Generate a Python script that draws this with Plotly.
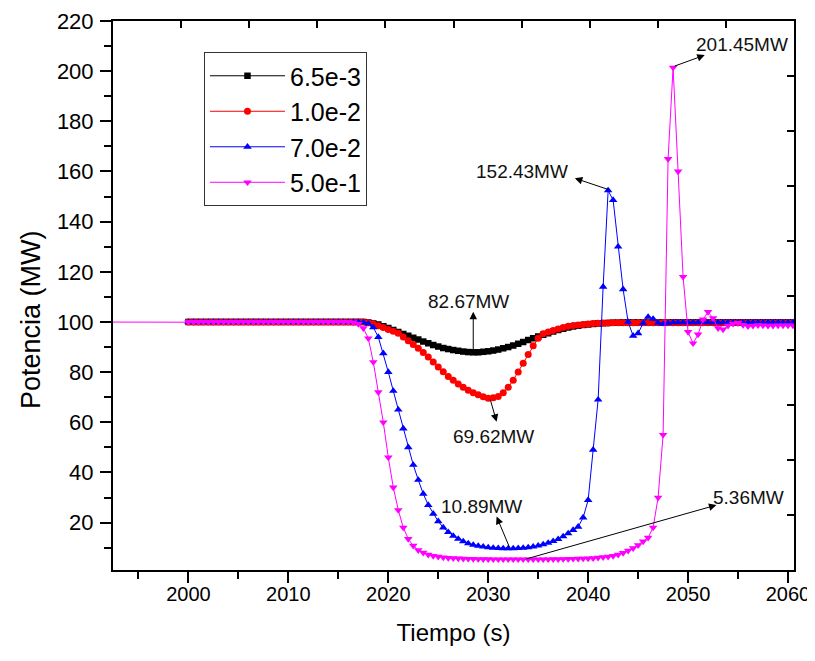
import plotly.graph_objects as go

# ---------------- data ----------------
# sampling instants of the simulation output (s), 0.5 s step
time_s = [2000 + 0.5 * i for i in range(123)]

series_names = ["6.5e-3", "1.0e-2", "7.0e-2", "5.0e-1"]

p_65e3 = [
    100, 100, 100, 100, 100, 100, 100, 100, 100, 100,
    100, 100, 100, 100, 100, 100, 100, 100, 100, 100,
    100, 100, 100, 100, 100, 100, 100, 100, 100, 100,
    100, 100, 100, 100, 100, 100, 99.8, 99.4, 99.0, 98.3,
    97.6, 96.8, 96.0, 95.2, 94.5, 93.7, 93.0, 92.2, 91.5, 90.8,
    90.2, 89.6, 89.2, 88.8, 88.5, 88.2, 88.0, 87.9, 87.9, 88.1,
    88.3, 88.6, 89.0, 89.5, 90.0, 90.6, 91.3, 92.0, 92.8, 93.5,
    94.2, 94.9, 95.5, 96.2, 96.8, 97.3, 97.8, 98.2, 98.5, 98.8,
    99.0, 99.2, 99.4, 99.5, 99.6, 99.7, 99.7, 99.8, 99.8, 99.8,
    99.8, 99.8, 99.8, 99.8, 99.8, 99.8, 99.8, 99.8, 99.8, 99.8,
    99.8, 99.8, 99.8, 99.8, 99.8, 99.8, 99.8, 99.8, 99.8, 99.8,
    99.8, 99.8, 99.8, 99.8, 99.8, 99.8, 99.8, 99.8, 99.8, 99.8,
    99.8, 99.8, 99.8,
]

p_10e2 = [
    100, 100, 100, 100, 100, 100, 100, 100, 100, 100,
    100, 100, 100, 100, 100, 100, 100, 100, 100, 100,
    100, 100, 100, 100, 100, 100, 100, 100, 100, 100,
    100, 100, 100, 100, 100, 100, 99.7, 99.2, 98.5, 97.8,
    97.0, 96.3, 95.5, 94.0, 92.5, 91.0, 89.5, 87.8, 86.0, 84.0,
    82.0, 80.1, 78.3, 76.8, 75.3, 74.0, 72.8, 71.8, 71.0, 70.2,
    69.62, 69.8, 70.3, 71.8, 74.0, 76.8, 80.0, 83.5, 87.0, 90.5,
    93.5, 95.3, 96.0, 96.6, 97.2, 97.8, 98.3, 98.6, 98.8, 99.0,
    99.2, 99.4, 99.5, 99.6, 99.6, 99.7, 99.7, 99.7, 99.7, 99.7,
    99.7, 99.7, 99.7, 99.7, 99.7, 99.7, 99.7, 99.7, 99.7, 99.7,
    99.7, 99.7, 99.7, 99.7, 99.7, 99.7, 99.7, 99.7, 99.7, 99.7,
    99.7, 99.7, 99.7, 99.7, 99.7, 99.7, 99.7, 99.7, 99.7, 99.7,
    99.7, 99.7, 99.7,
]

p_70e2 = [
    100, 100, 100, 100, 100, 100, 100, 100, 100, 100,
    100, 100, 100, 100, 100, 100, 100, 100, 100, 100,
    100, 100, 100, 100, 100, 100, 100, 100, 100, 100,
    100, 100, 100, 100, 100, 99.8, 99.3, 97.8, 94.0, 87.5,
    80.0, 72.5, 65.0, 57.5, 50.0, 43.0, 37.0, 31.5, 27.0, 23.5,
    20.5, 18.0, 16.2, 14.7, 13.5, 12.5, 11.7, 11.1, 10.7, 10.4,
    10.1, 9.9, 9.8, 9.7, 9.7, 9.7, 9.8, 9.9, 10.1, 10.4,
    10.8, 11.3, 11.9, 12.6, 13.4, 14.5, 15.7, 17.0, 18.3, 22.0,
    29.0, 49.0, 69.0, 114.0, 152.43, 148.6, 130.0, 113.0, 100.0, 94.5,
    95.5, 99.5, 102.0, 101.2, 99.6, 99.2, 99.5, 99.8, 99.8, 99.8,
    99.8, 99.8, 99.8, 99.8, 99.8, 99.8, 99.8, 99.8, 99.8, 99.8,
    99.8, 99.8, 99.8, 99.8, 99.8, 99.8, 99.8, 99.8, 99.8, 99.8,
    99.8, 99.8, 99.8,
]

# the 5.0e-1 run also has an earlier sample (thin line before 2000 s)
p_50e1_pre_t = [1985]
p_50e1_pre_v = [100]
p_50e1 = [
    100, 100, 100, 100, 100, 100, 100, 100, 100, 100,
    100, 100, 100, 100, 100, 100, 100, 100, 100, 100,
    100, 100, 100, 100, 100, 100, 100, 100, 100, 100,
    100, 100, 100, 99.8, 99.2, 97.5, 93.5, 84.0, 72.0, 60.0,
    46.0, 34.0, 25.0, 18.0, 13.5, 10.8, 9.0, 8.0, 7.2, 6.7,
    6.4, 6.1, 5.9, 5.8, 5.7, 5.6, 5.55, 5.5, 5.45, 5.4,
    5.4, 5.38, 5.36, 5.36, 5.36, 5.36, 5.36, 5.36, 5.36, 5.36,
    5.36, 5.37, 5.38, 5.4, 5.42, 5.45, 5.5, 5.55, 5.6, 5.65,
    5.7, 5.8, 6.0, 6.2, 6.4, 6.7, 7.2, 7.9, 8.8, 9.8,
    11.0, 12.5, 14.0, 18.0, 30.0, 55.0, 165.0, 201.45, 160.0, 118.0,
    96.0, 91.5, 95.0, 101.0, 104.0, 101.5, 97.5, 97.0, 98.5, 99.3,
    99.6, 98.8, 98.3, 98.5, 98.7, 98.6, 98.5, 98.5, 98.6, 98.6,
    98.6, 98.6, 98.6,
]

# annotation labels: text positions, arrow heads and arrow tails (data units)
label_texts = ["82.67MW", "69.62MW", "10.89MW", "5.36MW", "152.43MW", "201.45MW"]
label_pos = [(2028.0, 108.0), (2030.5, 54.5), (2029.3, 26.6),
             (2056.0, 30.0), (2033.4, 159.8), (2055.4, 210.8)]
arrow_head = [(2028.5, 104.1), (2030.84, 60.2), (2030.84, 22.4),
              (2052.84, 27.0), (2038.67, 157.3), (2051.67, 206.4)]
arrow_tail = [(2028.5, 88.1), (2030.17, 69.6), (2032.17, 9.75),
              (2033.67, 5.36), (2042.17, 152.6), (2048.5, 201.8)]

FONT = "Liberation Sans, Arial, sans-serif"

# ---------------- figure ----------------
fig = go.Figure()

styles = [
    ("#000000", "square", 6.5),
    ("#ff0000", "circle", 7),
    ("#0000ff", "triangle-up", 7.5),
    ("#ff00ff", "triangle-down", 7.5),
]
data_y = [p_65e3, p_10e2, p_70e2, p_50e1]

for i, (name, yv) in enumerate(zip(series_names, data_y)):
    col, sym, sz = styles[i]
    xs = list(time_s)
    ys = list(yv)
    if i == 3:
        xs = p_50e1_pre_t + xs
        ys = p_50e1_pre_v + ys
    fig.add_trace(go.Scatter(
        x=xs, y=ys, name=name, mode="lines+markers",
        line=dict(color=col, width=1),
        marker=dict(symbol=sym, size=sz, color=col, line=dict(width=0)),
    ))

# dummy trace for the top/right tick axes
fig.add_trace(go.Scatter(x=[None], y=[None], xaxis="x2", yaxis="y2",
                         showlegend=False, hoverinfo="skip"))

for txt, (tx, ty) in zip(label_texts, label_pos):
    fig.add_annotation(x=tx, y=ty, text=txt, showarrow=False,
                       xanchor="center", yanchor="middle",
                       font=dict(family=FONT, size=19, color="#111"))

for (hx, hy), (tx, ty) in zip(arrow_head, arrow_tail):
    fig.add_annotation(x=hx, y=hy, ax=tx, ay=ty, axref="x", ayref="y",
                       xref="x", yref="y", text="", showarrow=True,
                       arrowhead=2, arrowsize=1.5, arrowwidth=1,
                       arrowcolor="#000", standoff=0, startstandoff=0)

# y-axis title (sits a little below the axis centre in the original)
fig.add_annotation(x=-0.1204, y=0.4554, xref="paper", yref="paper",
                   text="Potencia (MW)", textangle=-90, showarrow=False,
                   xanchor="center", yanchor="middle",
                   font=dict(family=FONT, size=27, color="#000"))

# the page body has an 8 px default margin: figure is sized to fit inside
fig.update_layout(
    width=807, height=645,
    margin=dict(l=105, r=21, t=13, b=83, autoexpand=False),
    paper_bgcolor="white", plot_bgcolor="white",
    font=dict(family=FONT, color="#000"),
    showlegend=True,
    legend=dict(x=0.1336, y=0.9435, xanchor="left", yanchor="top",
                bgcolor="white", bordercolor="#333", borderwidth=1,
                font=dict(family=FONT, size=25, color="#000"),
                itemwidth=75, tracegroupgap=0),
    xaxis=dict(range=[1992.45, 2060.6], tick0=2000, dtick=10,
               showgrid=False, zeroline=False,
               showline=True, linecolor="#000", linewidth=2, mirror=True,
               ticks="outside", ticklen=11, tickwidth=1.5, tickcolor="#000",
               ticklabeloverflow="allow", ticklabelstandoff=-6,
               tickfont=dict(family=FONT, size=20, color="#000"),
               minor=dict(dtick=5, tick0=2000, ticks="outside", ticklen=7,
                          tickwidth=1.5, tickcolor="#000", showgrid=False),
               title=dict(text="Tiempo (s)", standoff=20,
                          font=dict(family=FONT, size=24, color="#000"))),
    yaxis=dict(range=[1.1, 220], tick0=0, dtick=20,
               showgrid=False, zeroline=False,
               showline=True, linecolor="#000", linewidth=2, mirror=True,
               ticks="outside", ticklen=11, tickwidth=1.5, tickcolor="#000",
               ticklabeloverflow="allow", ticklabelstandoff=2,
               tickfont=dict(family=FONT, size=22, color="#000"),
               minor=dict(dtick=10, tick0=0, ticks="outside", ticklen=7,
                          tickwidth=1.5, tickcolor="#000", showgrid=False)),
    xaxis2=dict(overlaying="x", side="top", anchor="y2", range=[0, 10],
                dtick=1, ticks="inside", ticklen=7, tickwidth=1.5,
                tickcolor="#000", showticklabels=False, showgrid=False,
                zeroline=False, showline=False),
    yaxis2=dict(overlaying="y", side="right", anchor="x2", range=[0, 10],
                dtick=1, ticks="inside", ticklen=7, tickwidth=1.5,
                tickcolor="#000", showticklabels=False, showgrid=False,
                zeroline=False, showline=False),
)

fig.write_html("out.html")
